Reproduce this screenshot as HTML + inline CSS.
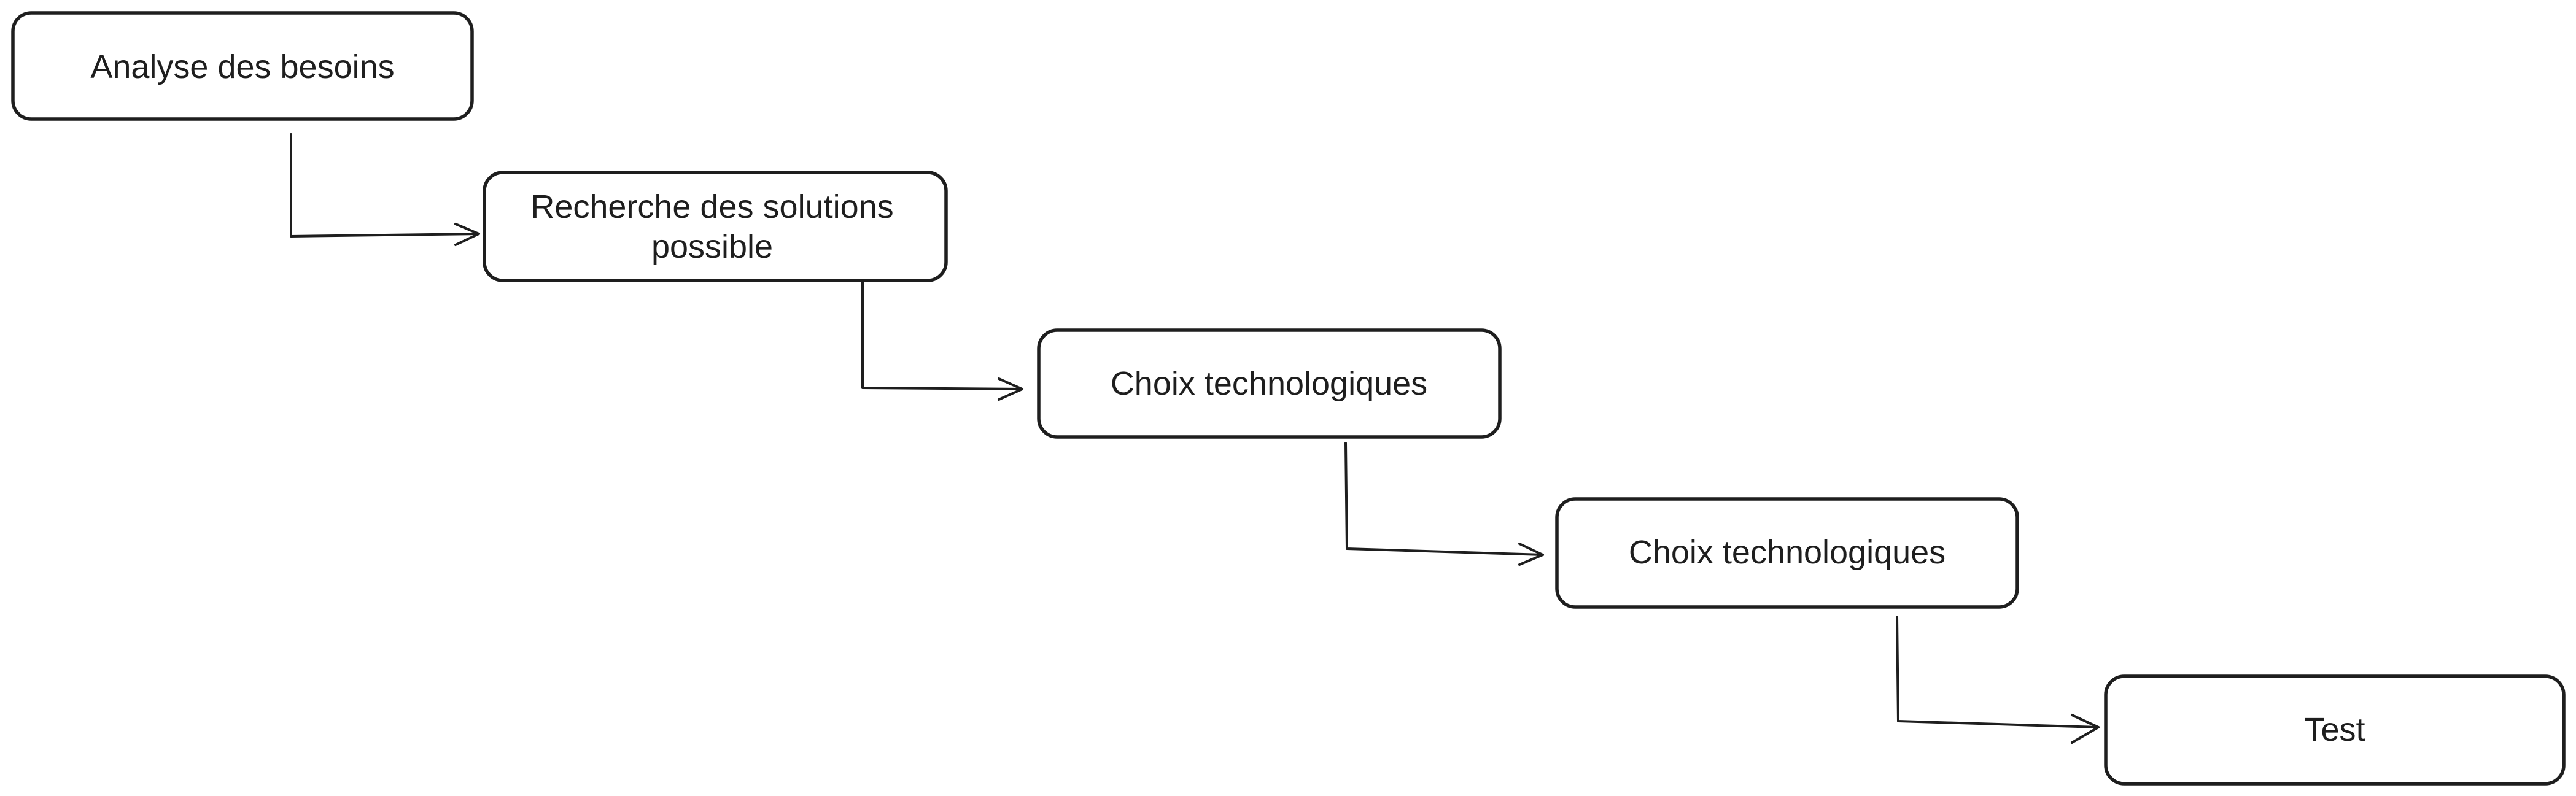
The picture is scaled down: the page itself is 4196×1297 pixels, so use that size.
<!DOCTYPE html>
<html><head><style>body{margin:0;background:#fff}svg{display:block}</style></head>
<body>
<svg width="4196" height="1297" viewBox="0 0 4196 1297" xmlns="http://www.w3.org/2000/svg">
<g fill="none" stroke="#1e1e1e" stroke-width="5.5" stroke-linecap="round" stroke-linejoin="round">
<rect x="21" y="21" width="748" height="173" rx="30"/>
<rect x="789" y="281" width="752" height="176" rx="30"/>
<rect x="1692" y="538" width="751" height="174" rx="30"/>
<rect x="2536" y="813" width="750" height="176" rx="30"/>
<rect x="3430" y="1102" width="746" height="175" rx="30"/>
</g>
<g fill="none" stroke="#1e1e1e" stroke-width="4" stroke-linecap="round" stroke-linejoin="round">
<path d="M474 219 L474 385 L780 381"/>
<path d="M742 365 L780 381 L742 399"/>
<path d="M1405 460 L1405 632 L1665 634"/>
<path d="M1627 617 L1665 634 L1627 651"/>
<path d="M2192 722 L2194 894 L2513 904"/>
<path d="M2475 886 L2513 904 L2475 920"/>
<path d="M3090 1005 L3092 1175 L3418 1185"/>
<path d="M3375 1165 L3418 1185 L3375 1210"/>
</g>
<g font-family="Liberation Sans, sans-serif" font-size="54" fill="#1e1e1e" text-anchor="middle">
<text x="395" y="127">Analyse des besoins</text>
<text x="1160" y="355">Recherche des solutions</text>
<text x="1160" y="420">possible</text>
<text x="2067" y="643">Choix technologiques</text>
<text x="2911" y="918">Choix technologiques</text>
<text x="3803" y="1207">Test</text>
</g>
</svg>
</body></html>
